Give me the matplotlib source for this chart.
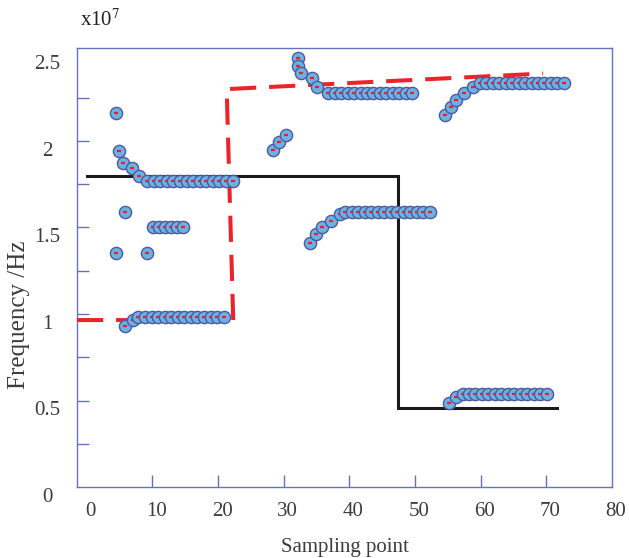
import numpy as np
import matplotlib
matplotlib.use("Agg")
import matplotlib.pyplot as plt
from matplotlib.transforms import ScaledTranslation
from matplotlib.ticker import FixedLocator

plt.rcParams['font.family'] = ['Liberation Serif', 'DejaVu Serif']
plt.rcParams['mathtext.fontset'] = 'stix'

# ---- estimated frequencies (x1e7 Hz) per sampling point ----
# branch around the 1.8e7 reference
a_x = [4.4, 4.95, 5.5, 6.85, 7.95] + list(np.arange(9.2, 22.3, 1.0))
a_y = [2.16, 1.94, 1.87, 1.846, 1.80] + [1.77] * 14

# scattered early estimates
b_x = [5.8, 10.1, 11.0, 11.9, 12.8, 13.7, 14.6, 4.4, 9.1]
b_y = [1.59, 1.50, 1.50, 1.50, 1.50, 1.50, 1.50, 1.35, 1.35]

# branch around the 1.0e7 reference
c_x = [5.8, 7.0] + list(np.arange(7.85, 20.9, 1.0))
c_y = [0.93, 0.965] + [0.98, 0.985] + [0.985] * 12

# rising estimates near sampling point 30
d_x = [28.4, 29.3, 30.3]
d_y = [1.948, 1.996, 2.035]

# branch settling near 2.28e7
e_x = [32.1, 32.1, 32.65, 34.3, 35.1] + list(np.arange(36.8, 49.6, 0.98))
e_y = [2.478, 2.434, 2.395, 2.366, 2.314] + [2.28] * 14

# branch settling near 1.59e7
f_x = [34.0, 34.9, 35.8, 37.2, 38.5] + list(np.arange(39.4, 52.3, 0.985))
f_y = [1.41, 1.46, 1.50, 1.54, 1.58] + [1.59] * 14

# branch settling near 2.33e7
g_x = [54.5, 55.4, 56.2, 57.5, 58.8] + list(np.arange(59.9, 72.7, 0.98))
g_y = [2.15, 2.198, 2.237, 2.28, 2.314] + [2.334] * 14

# branch settling near 0.54e7
h_x = [55.1, 56.3, 57.3] + list(np.arange(58.2, 70.2, 0.99))
h_y = [0.487, 0.522, 0.54] + [0.536] * 13

# reference signals
black_x = [0.0, 47.4, 47.4, 71.6]
black_y = [1.80, 1.80, 0.458, 0.458]
red_x = [-1.5, 22.3, 21.3, 69.5]
red_y = [0.965, 0.965, 2.30, 2.39]

x_ticks = [10, 20, 30, 40, 50, 60, 70]
x_labels = [0, 10, 20, 30, 40, 50, 60, 70, 80]
y_marks = [0.25, 0.5, 0.75, 1.0, 1.25, 1.5, 1.75, 2.0, 2.25]
y_labels = [0, 0.5, 1, 1.5, 2, 2.5]

W, H = 629, 558
fig = plt.figure(figsize=(W / 100, H / 100), dpi=100)
L, R, T, B = 77, 612, 48, 487
ax = fig.add_axes([L / W, 1 - B / H, (R - L) / W, (B - T) / H])

axis_col = '#6673bb'
text_col = '#3c3c3c'

ax.plot(black_x, black_y, color='#1a1a1a', lw=2.2, solid_joinstyle='miter', zorder=2)
ax.plot(red_x, red_y, color='#ee2229', lw=2.9, dashes=(6.5, 3.2), zorder=3)

fill = '#6db0e3'
edge = '#4d5a9c'
for xs, ys in [(a_x, a_y), (b_x, b_y), (c_x, c_y), (d_x, d_y),
               (e_x, e_y), (f_x, f_y), (g_x, g_y), (h_x, h_y)]:
    for xv, yv in zip(xs, ys):
        ax.plot(xv, yv, 'o', ms=8.8, mfc=fill, mec=edge, mew=1.0, zorder=4)
        ax.plot(xv, yv, marker='_', ms=3.0, mec='#e8202a', mew=1.6, zorder=4)

ax.set_xlim(-1.5, 80)
ax.set_ylim(0, (B - T) / 173)

for s in ax.spines.values():
    s.set_color(axis_col)
    s.set_linewidth(1.0)

# x axis: inward marks and labels
ax.xaxis.set_major_locator(FixedLocator(x_labels))
ax.set_xticklabels([str(v) for v in x_labels])
ax.xaxis.set_minor_locator(FixedLocator(x_ticks))
ax.xaxis.remove_overlapping_locs = False
ax.tick_params(axis='x', which='major', length=0, pad=11, labelsize=15, labelcolor=text_col)
ax.tick_params(axis='x', which='minor', direction='in', length=8.5, width=1.0, color=axis_col)

# y axis: inward marks every 0.25, labels every 0.5
ax.yaxis.set_major_locator(FixedLocator(y_labels))
ax.set_yticklabels(['0', '0.5', '1', '1.5', '2', '2.5'])
ax.yaxis.set_minor_locator(FixedLocator(y_marks))
ax.yaxis.remove_overlapping_locs = False
ax.tick_params(axis='y', which='major', length=0, pad=21.5, labelsize=15, labelcolor=text_col)
ax.tick_params(axis='y', which='minor', direction='in', length=8.5, width=1.0, color=axis_col)
for lab in ax.get_yticklabels():
    lab.set_horizontalalignment('center')
    lab.set_transform(lab.get_transform() + ScaledTranslation(0, -8 / 100, fig.dpi_scale_trans))
for lab in ax.get_xticklabels():
    lab.set_transform(lab.get_transform() + ScaledTranslation(4 / 100, 0, fig.dpi_scale_trans))

ax.set_xlabel('Sampling point', fontsize=15, color=text_col)
ax.set_ylabel('Frequency /Hz', fontsize=18, color=text_col)
ax.xaxis.set_label_coords(0.5, -(538 - B) / (B - T))
ax.yaxis.set_label_coords(-(77 - 30) / (R - L), (B - 315) / (B - T))

fig.text(100 / W, 1 - 20 / H, r'x10$^{7}$', fontsize=15, color='#222222',
         ha='center', va='center')

fig.savefig('out.png', dpi=100)
